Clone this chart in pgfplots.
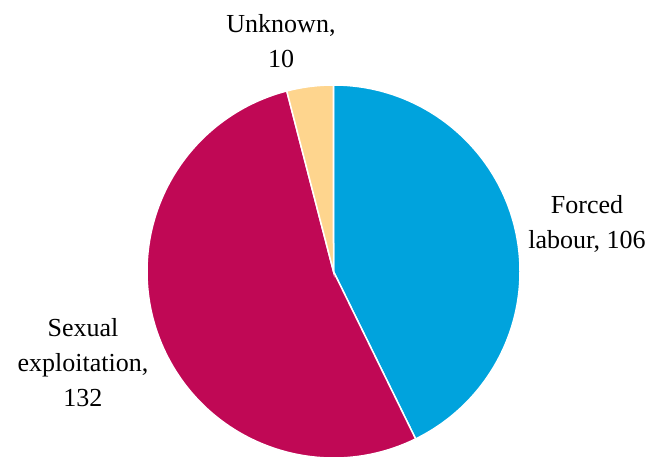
\documentclass[border=0pt]{standalone}
\usepackage{pgfplots}
\usepackage{pgfplotstable}
\pgfplotsset{compat=1.18}
\usepackage{fontspec}
\setmainfont{Liberation Serif}
\definecolor{pieblue}{RGB}{0,163,221}
\definecolor{piemag}{RGB}{192,8,85}
\definecolor{piepeach}{RGB}{254,213,142}
\pgfplotstableread{
label value
Forced 106
Sexual 132
Unknown 10
}\piedata
\begin{document}
\begin{tikzpicture}
\pgfplotstablegetelem{0}{value}\of\piedata \let\va\pgfplotsretval
\pgfplotstablegetelem{1}{value}\of\piedata \let\vb\pgfplotsretval
\pgfplotstablegetelem{2}{value}\of\piedata \let\vc\pgfplotsretval
\pgfmathsetmacro\total{\va+\vb+\vc}
\pgfmathsetmacro\aA{90}
\pgfmathsetmacro\aB{\aA-(\va/\total)*360}
\pgfmathsetmacro\aC{\aB-(\vb/\total)*360}
\pgfmathsetmacro\aD{\aC-(\vc/\total)*360}
\begin{axis}[
  width=654pt, height=457pt, scale only axis,
  xmin=0, xmax=654, ymin=0, ymax=457,
  hide axis, clip=true,
]
\addplot[draw=none] coordinates {(0,0) (654,457)};
\fill[pieblue, draw=white, line width=1.5pt] (axis cs:333.5,185.5) -- ++(\aA:186.5pt) arc[start angle=\aA, end angle=\aB, radius=186.5pt] -- cycle;
\fill[piemag, draw=white, line width=1.5pt] (axis cs:333.5,185.5) -- ++(\aB:186.5pt) arc[start angle=\aB, end angle=\aC, radius=186.5pt] -- cycle;
\fill[piepeach, draw=white, line width=1.5pt] (axis cs:333.5,185.5) -- ++(\aC:186.5pt) arc[start angle=\aC, end angle=\aD, radius=186.5pt] -- cycle;
\node[align=center, font=\fontsize{26}{35}\selectfont, anchor=center] at (axis cs:281,416) {Unknown,\\\vc};
\node[align=center, font=\fontsize{26}{35}\selectfont, anchor=center] at (axis cs:587,233) {Forced\\labour, \va};
\node[align=center, font=\fontsize{26}{35}\selectfont, anchor=center] at (axis cs:83,94) {Sexual\\exploitation,\\\vb};
\end{axis}
\end{tikzpicture}
\end{document}
